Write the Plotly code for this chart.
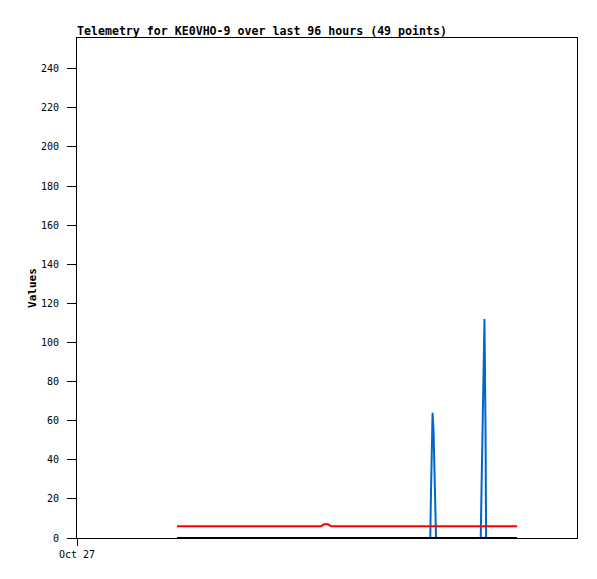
import plotly.graph_objects as go

times = [
    "2023-10-27 19:12", "2023-10-27 21:19", "2023-10-27 23:37", "2023-10-28 01:55",
    "2023-10-28 04:25", "2023-10-28 06:43", "2023-10-28 09:13", "2023-10-28 11:31",
    "2023-10-28 14:01", "2023-10-28 16:19", "2023-10-28 18:49", "2023-10-28 20:44",
    "2023-10-28 22:51", "2023-10-28 23:25", "2023-10-29 00:11", "2023-10-29 00:46",
    "2023-10-29 02:30", "2023-10-29 04:25", "2023-10-29 06:43", "2023-10-29 09:13",
    "2023-10-29 11:31", "2023-10-29 14:01", "2023-10-29 15:33", "2023-10-29 16:54",
    "2023-10-29 18:14", "2023-10-29 19:50", "2023-10-29 19:55", "2023-10-29 20:05",
    "2023-10-29 20:16", "2023-10-29 20:28", "2023-10-29 20:39", "2023-10-29 20:51",
    "2023-10-29 20:56", "2023-10-29 21:42", "2023-10-29 23:37", "2023-10-30 01:32",
    "2023-10-30 03:27", "2023-10-30 05:31", "2023-10-30 05:38", "2023-10-30 05:50",
    "2023-10-30 06:02", "2023-10-30 06:14", "2023-10-30 06:26", "2023-10-30 06:33",
    "2023-10-30 07:18", "2023-10-30 08:15", "2023-10-30 10:11", "2023-10-30 11:08",
    "2023-10-30 12:29",
]

red_values = [6] * 13 + [7, 7] + [6] * 34
black_values = [0] * 49
blue_values = ([0] * 26 + [16, 48, 64, 54, 32, 11, 0]
               + [0] * 5 + [19, 56, 93, 112, 56, 0] + [0] * 5)

title_text = "Telemetry for KE0VHO-9 over last 96 hours (49 points)"
y_title = "Values"
x_tick_vals = ["2023-10-27 00:00"]
x_tick_text = ["Oct 27"]
y_tick_vals = list(range(0, 241, 20))

fig = go.Figure()
fig.add_trace(go.Scatter(x=times, y=blue_values, mode="lines",
                         line=dict(color="#0066cc", width=2), showlegend=False))
fig.add_trace(go.Scatter(x=times, y=red_values, mode="lines",
                         line=dict(color="#ff0000", width=2), showlegend=False))
fig.add_trace(go.Scatter(x=times, y=black_values, mode="lines",
                         line=dict(color="#000000", width=2), showlegend=False))

mono = "DejaVu Sans Mono"
fig.update_layout(
    width=597, height=579,
    margin=dict(l=77, r=20, t=38, b=41),
    paper_bgcolor="white", plot_bgcolor="white",
    title=dict(text="<b>" + title_text + "</b>", x=77 / 597, xanchor="left",
               y=1 - 31 / 579, yanchor="middle",
               font=dict(family=mono, size=11.6, color="black")),
    font=dict(family=mono, size=10, color="black"),
)
fig.update_xaxes(
    type="date", range=["2023-10-27 00:00", "2023-10-31 00:00"],
    tickvals=x_tick_vals, ticktext=x_tick_text,
    ticks="outside", ticklen=7, tickcolor="black",
    showgrid=False, zeroline=False, automargin=False,
    showline=True, linecolor="black", linewidth=1, mirror=True,
    tickfont=dict(family=mono, size=10, color="black"),
)
fig.update_yaxes(
    range=[0, 255.7], tickvals=y_tick_vals,
    ticks="outside", ticklen=9, tickcolor="black", ticklabelstandoff=6,
    showgrid=False, zeroline=False, automargin=False,
    showline=True, linecolor="black", linewidth=1, mirror=True,
    tickfont=dict(family=mono, size=10, color="black"),
    title=dict(text="<b>" + y_title + "</b>", standoff=2,
               font=dict(family=mono, size=11, color="black")),
)

fig.write_html("out.html", config={"displayModeBar": False},
               post_script="document.body.style.margin='0';document.body.style.overflow='hidden';")
